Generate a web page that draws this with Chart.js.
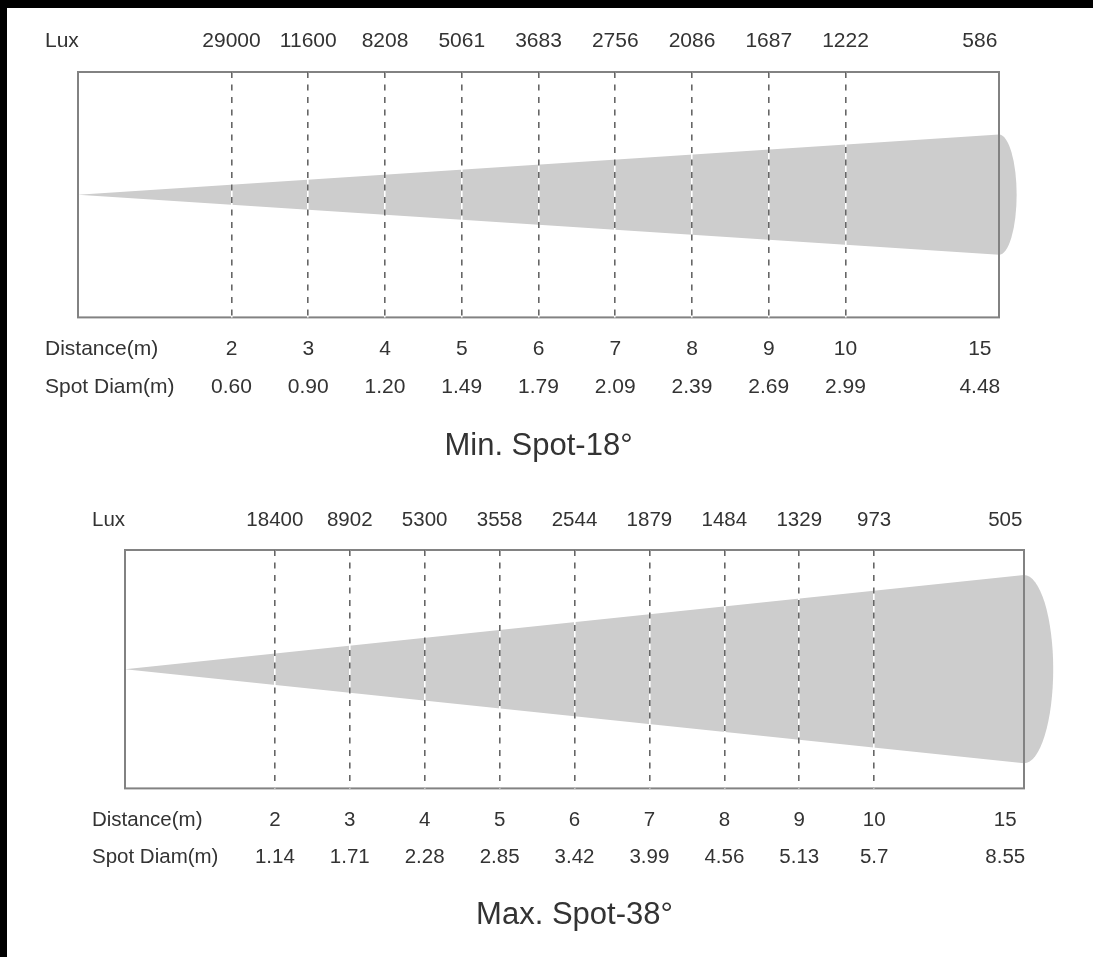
<!DOCTYPE html>
<html>
<head>
<meta charset="utf-8">
<script src="https://cdn.jsdelivr.net/npm/chart.js@4"></script>
<style>
  html, body { margin: 0; padding: 0; background: #000; }
  #pagina { position: absolute; left: 7px; top: 8px; width: 1086px; height: 949px; background: #fff; }
  canvas { position: absolute; left: 0; }
  #grafico_min { top: 0; }
  #grafico_max { top: 470px; }
</style>
</head>
<body>
<div id="pagina">
  <canvas id="grafico_min" width="1086" height="470"></canvas>
  <canvas id="grafico_max" width="1086" height="479"></canvas>
</div>
<script>
/* ===== DADOS ===== */
const distancias = [2, 3, 4, 5, 6, 7, 8, 9, 10, 15];
// onde cada coluna fica no eixo (o 15 fica logo antes do fim da caixa)
const posicoes_eixo = [2, 3, 4, 5, 6, 7, 8, 9, 10, 11.75];
const fim_caixa = 12;

const lux_min = [29000, 11600, 8208, 5061, 3683, 2756, 2086, 1687, 1222, 586];
const diam_min = ['0.60', '0.90', '1.20', '1.49', '1.79', '2.09', '2.39', '2.69', '2.99', '4.48'];

const lux_max = [18400, 8902, 5300, 3558, 2544, 1879, 1484, 1329, 973, 505];
const diam_max = ['1.14', '1.71', '2.28', '2.85', '3.42', '3.99', '4.56', '5.13', '5.7', '8.55'];

// meia abertura do feixe no fim da caixa (eixo y vai de -1 a 1) e fundo da "tampa"
const feixe_min = 0.49;
const tampa_min = 0.23;
const feixe_max = 0.79;
const tampa_max = 0.39;

const rotulos_linhas = ['Lux', 'Distance(m)', 'Spot Diam(m)'];

/* ===== ESTILO ===== */
Chart.defaults.font.family = "'Liberation Sans', Arial, sans-serif";
Chart.defaults.color = '#333';
const COR_FEIXE = '#cdcdcd';
const COR_CAIXA = '#828282';
const COR_TRACO = '#666';

/* ===== PLUGIN: tampa do feixe, caixa e nomes das linhas ===== */
const plugin_desenho = {
  id: 'desenho',
  afterDatasetsDraw(chart, args, opts) {
    const ctx = chart.ctx;
    const area = chart.chartArea;
    const sx = chart.scales.x;
    const sy = chart.scales.y;

    // tampa (meia elipse) no fim do feixe
    const px = sx.getPixelForValue(fim_caixa);
    const py = sy.getPixelForValue(0);
    const ry = Math.abs(sy.getPixelForValue(opts.feixe) - py);
    const rx = sx.getPixelForValue(fim_caixa + opts.tampa) - px;
    ctx.save();
    ctx.fillStyle = COR_FEIXE;
    ctx.beginPath();
    ctx.ellipse(px, py, rx, ry, 0, -Math.PI / 2, Math.PI / 2);
    ctx.closePath();
    ctx.fill();

    // caixa
    ctx.strokeStyle = COR_CAIXA;
    ctx.lineWidth = 2;
    ctx.strokeRect(area.left, area.top, area.right - area.left, area.bottom - area.top);
    ctx.restore();
  },
  afterDraw(chart, args, opts) {
    const ctx = chart.ctx;
    const topo = chart.scales.topo;
    const base = chart.scales.x;
    const fonte = opts.fonte;
    const lh_topo = fonte * 1.2;
    const lh_base = base.options.ticks.font.lineHeight * fonte;
    const x = chart.chartArea.left - 33;

    ctx.save();
    ctx.font = fonte + "px 'Liberation Sans', Arial, sans-serif";
    ctx.fillStyle = '#333';
    ctx.textAlign = 'left';
    ctx.textBaseline = 'middle';
    ctx.fillText(rotulos_linhas[0], x, topo.bottom - topo.options.ticks.padding - lh_topo / 2);
    const y0 = base.top + base.options.ticks.padding + lh_base / 2;
    ctx.fillText(rotulos_linhas[1], x, y0);
    ctx.fillText(rotulos_linhas[2], x, y0 + lh_base);
    ctx.restore();
  }
};

/* ===== GRAFICOS ===== */
function monta_grafico(canvas, cfg) {
  const so_linhas = (c) => c.index < posicoes_eixo.length - 1 ? COR_TRACO : 'rgba(0,0,0,0)';
  const so_linhas_brancas = (c) => c.index < posicoes_eixo.length - 1 ? '#fff' : 'rgba(0,0,0,0)';
  const poe_ticks = (scale) => { scale.ticks = posicoes_eixo.map(v => ({ value: v })); };

  return new Chart(canvas, {
    type: 'line',
    data: {
      datasets: [
        {
          label: 'feixe_cima',
          data: [{ x: 0, y: 0 }, { x: fim_caixa, y: cfg.feixe }],
          backgroundColor: COR_FEIXE,
          borderWidth: 0,
          pointRadius: 0,
          fill: '+1'
        },
        {
          label: 'feixe_baixo',
          data: [{ x: 0, y: 0 }, { x: fim_caixa, y: -cfg.feixe }],
          backgroundColor: COR_FEIXE,
          borderWidth: 0,
          pointRadius: 0,
          fill: false
        }
      ]
    },
    options: {
      responsive: false,
      animation: false,
      layout: { autoPadding: false, padding: cfg.padding },
      plugins: {
        legend: { display: false },
        tooltip: { enabled: false },
        title: {
          display: true,
          text: cfg.titulo,
          position: 'bottom',
          fullSize: false,
          color: '#333',
          font: { size: 31, weight: 'normal', lineHeight: 1.2 },
          padding: { top: cfg.pad_titulo, bottom: 0 }
        },
        desenho: { feixe: cfg.feixe, tampa: cfg.tampa, fonte: cfg.fonte }
      },
      scales: {
        topo: {
          type: 'linear',
          position: 'top',
          min: 0,
          max: fim_caixa,
          afterBuildTicks: poe_ticks,
          afterFit: (scale) => { scale.height = cfg.altura_topo; },
          grid: { color: so_linhas_brancas, lineWidth: 1.6, drawTicks: false, z: 1 },
          border: { display: false },
          ticks: {
            autoSkip: false,
            maxRotation: 0,
            padding: cfg.pad_topo,
            font: { size: cfg.fonte, lineHeight: 1.2 },
            callback: (v, i) => String(cfg.lux[i])
          }
        },
        x: {
          type: 'linear',
          position: 'bottom',
          min: 0,
          max: fim_caixa,
          afterBuildTicks: poe_ticks,
          afterFit: (scale) => { scale.height = 100; },
          grid: { color: so_linhas, lineWidth: 1.6, drawTicks: false, z: 2 },
          border: { display: false, dash: [6, 6.5] },
          ticks: {
            autoSkip: false,
            maxRotation: 0,
            padding: cfg.pad_base,
            font: { size: cfg.fonte, lineHeight: cfg.lh_base },
            callback: (v, i) => [String(distancias[i]), cfg.diam[i]]
          }
        },
        y: { type: 'linear', min: -1, max: 1, display: false }
      }
    },
    plugins: [plugin_desenho]
  });
}

document.addEventListener('DOMContentLoaded', () => {
  monta_grafico(document.getElementById('grafico_min'), {
    titulo: 'Min. Spot-18°',
    lux: lux_min,
    diam: diam_min,
    feixe: feixe_min,
    tampa: tampa_min,
    fonte: 21,
    padding: { left: 71, right: 94, top: 0, bottom: 13.1 },
    altura_topo: 64,
    pad_topo: 17.9,
    pad_base: 13.25,
    lh_base: 37.5 / 21,
    pad_titulo: 10.3
  });

  monta_grafico(document.getElementById('grafico_max'), {
    titulo: 'Max. Spot-38°',
    lux: lux_max,
    diam: diam_max,
    feixe: feixe_max,
    tampa: tampa_max,
    fonte: 20.5,
    padding: { left: 118, right: 69, top: 0, bottom: 23.1 },
    altura_topo: 72,
    pad_topo: 17.2,
    pad_base: 14.1,
    lh_base: 36.3 / 20.5,
    pad_titulo: 8.3
  });
});
</script>
</body>
</html>
